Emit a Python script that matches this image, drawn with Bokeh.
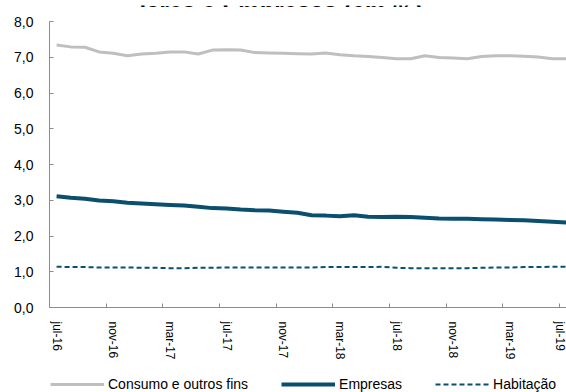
from bokeh.plotting import figure
from bokeh.layouts import column
from bokeh.models import FixedTicker, Range1d, Legend, LegendItem, Label
from bokeh.embed import file_html
from bokeh.resources import INLINE

months = ["jul-16", "ago-16", "set-16", "out-16", "nov-16", "dez-16",
          "jan-17", "fev-17", "mar-17", "abr-17", "mai-17", "jun-17",
          "jul-17", "ago-17", "set-17", "out-17", "nov-17", "dez-17",
          "jan-18", "fev-18", "mar-18", "abr-18", "mai-18", "jun-18",
          "jul-18", "ago-18", "set-18", "out-18", "nov-18", "dez-18",
          "jan-19", "fev-19", "mar-19", "abr-19", "mai-19", "jun-19",
          "jul-19"]

consumo = [7.34, 7.29, 7.28, 7.15, 7.11, 7.04, 7.09, 7.11, 7.15, 7.15, 7.09, 7.20,
           7.21, 7.20, 7.13, 7.12, 7.11, 7.10, 7.09, 7.12, 7.07, 7.04, 7.02, 6.99,
           6.96, 6.96, 7.04, 6.99, 6.98, 6.96, 7.02, 7.04, 7.04, 7.03, 7.01, 6.96,
           6.96]
empresas = [3.11, 3.07, 3.04, 2.99, 2.97, 2.93, 2.91, 2.89, 2.87, 2.85, 2.82, 2.78,
            2.77, 2.74, 2.72, 2.71, 2.68, 2.65, 2.58, 2.57, 2.55, 2.58, 2.54, 2.53,
            2.54, 2.53, 2.51, 2.49, 2.48, 2.48, 2.47, 2.46, 2.45, 2.44, 2.42, 2.40,
            2.38]
habitacao = [1.14, 1.13, 1.13, 1.12, 1.12, 1.12, 1.11, 1.11, 1.10, 1.10, 1.11, 1.11,
             1.12, 1.12, 1.12, 1.12, 1.12, 1.12, 1.12, 1.13, 1.13, 1.13, 1.13, 1.14,
             1.11, 1.10, 1.10, 1.10, 1.10, 1.10, 1.11, 1.12, 1.12, 1.13, 1.13, 1.14,
             1.14]

series_names = ["Consumo e outros fins", "Empresas", "Habitação"]
title_text = "lares e Empresas (em %)"
ytick_values = [0, 1, 2, 3, 4, 5, 6, 7, 8]
ytick_labels = ["0,0", "1,0", "2,0", "3,0", "4,0", "5,0", "6,0", "7,0", "8,0"]

x = list(range(len(months)))
label_idx = list(range(0, len(months), 4))
series = [consumo, empresas, habitacao]

FONT = "Liberation Sans"
AXIS_COLOR = "#8C8C8C"
BLUE = "#0B4F6E"
GRAY = "#BFBFBF"
styles = [dict(line_color=GRAY, line_width=3),
          dict(line_color=BLUE, line_width=4),
          dict(line_color=BLUE, line_width=2, line_dash="5 3")]


def blank_strip(h):
    f = figure(width=566, height=h, output_backend="svg", toolbar_location=None,
               x_range=Range1d(-0.5, len(months) - 1), y_range=Range1d(-20, -10),
               min_border_left=0, min_border_right=0, min_border_top=0,
               min_border_bottom=0)
    f.axis.visible = False
    f.grid.visible = False
    f.outline_line_color = None
    f.background_fill_color = "white"
    f.border_fill_color = "white"
    return f


# ---- title strip (only the lower part of the title is visible) ----
t = blank_strip(7)
t.add_layout(Label(x=231.5, y=1.6, x_units="screen", y_units="screen", text=title_text,
                   text_font=FONT, text_font_style="bold", text_font_size="24px",
                   text_align="center", text_baseline="alphabetic",
                   text_color="#000000"))

# ---- main chart ----
p = figure(width=566, height=355, output_backend="svg", toolbar_location=None,
           x_range=Range1d(-0.5, len(months) - 1), y_range=Range1d(0, 8),
           min_border_left=49, min_border_right=0, min_border_top=14,
           min_border_bottom=55)
p.grid.visible = False
p.outline_line_color = None
p.background_fill_color = "white"
p.border_fill_color = "white"

for vals, st in zip(series, styles):
    p.line(x, vals, **st)

xa = p.xaxis[0]
xa.ticker = FixedTicker(ticks=label_idx, minor_ticks=[i - 0.5 for i in label_idx])
xa.major_label_overrides = {i: months[i] for i in label_idx}
xa.major_tick_line_color = None
xa.minor_tick_line_color = AXIS_COLOR
xa.minor_tick_in = 4
xa.minor_tick_out = 0
xa.major_label_orientation = "vertical"
xa.major_label_standoff = 8
xa.major_label_text_font = FONT
xa.major_label_text_font_size = "12px"
xa.major_label_text_color = "#000000"
xa.axis_line_color = AXIS_COLOR

ya = p.yaxis[0]
ya.ticker = FixedTicker(ticks=ytick_values, minor_ticks=[])
ya.major_label_overrides = dict(zip(ytick_values, ytick_labels))
ya.major_tick_in = 4
ya.major_tick_out = 0
ya.major_tick_line_color = AXIS_COLOR
ya.minor_tick_line_color = None
ya.major_label_standoff = 16
ya.major_label_text_font = FONT
ya.major_label_text_font_size = "14px"
ya.major_label_text_color = "#000000"
ya.axis_line_color = AXIS_COLOR

# ---- legend strip (same series, drawn outside its visible range) ----
q = blank_strip(30)
lr = [q.line(x, vals, **st) for vals, st in zip(series, styles)]

legend = Legend(items=[LegendItem(label=n, renderers=[r]) for n, r in zip(series_names, lr)],
                location=(1, 0), orientation="horizontal",
                padding=0, margin=0, spacing=33, label_standoff=4,
                glyph_width=54, glyph_height=14, label_height=14,
                label_text_font=FONT, label_text_font_size="14px",
                label_text_color="#000000",
                border_line_color=None, background_fill_alpha=0)
q.add_layout(legend)

layout = column(t, p, q, spacing=0)
open("out.html", "w").write(file_html(layout, INLINE))
